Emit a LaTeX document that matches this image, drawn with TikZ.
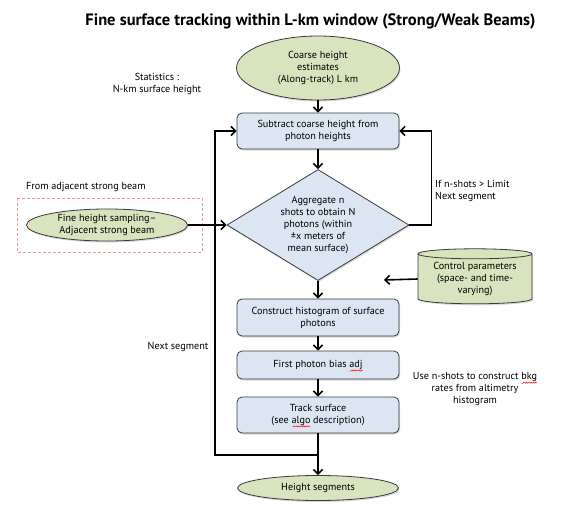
\documentclass[tikz,border=0pt]{standalone}
\usepackage{fontspec}
\setmainfont{PT Sans}
\usetikzlibrary{arrows.meta,positioning,shapes.geometric,shadows}

\definecolor{termfill}{HTML}{D7E4BD}
\definecolor{procfill}{HTML}{DCE6F2}
\definecolor{boxline}{HTML}{3A3A3A}
\definecolor{dashred}{HTML}{E39A9A}

% red squiggle under words the spell checker did not know
\newcommand\spellmark[1]{\leavevmode\setbox0\hbox{#1}%
  \rlap{\smash{\begin{pgfpicture}%
    \pgfsetbaseline{0pt}\pgfsetcornersarced{\pgfpointorigin}%
    \pgfsetlinewidth{0.45pt}\pgfsetstrokecolor{red}%
    \pgfmathtruncatemacro\spellsteps{\the\wd0/1.2pt}%
    \pgfpathmoveto{\pgfpoint{0pt}{-3.6pt}}%
    \foreach \k in {1,...,\spellsteps}{%
      \pgfpathlineto{\pgfpoint{\k*1.2pt}{-3pt+0.6pt*(-1)^\k}}}%
    \pgfusepath{stroke}%
  \end{pgfpicture}}}\box0\relax}

\tikzset{
  every node/.style={font=\fontsize{10.2}{11.8}\selectfont, align=center},
  softshadow/.style={drop shadow={shadow xshift=1pt, shadow yshift=-1.5pt, opacity=0.3}},
  term/.style={ellipse, draw=boxline, line width=0.8pt, fill=termfill, inner sep=0pt, softshadow},
  proc/.style={rectangle, rounded corners=5pt, draw=boxline, line width=0.8pt, fill=procfill,
    minimum width=162pt, inner sep=0pt, softshadow},
  decide/.style={diamond, draw=boxline, line width=0.8pt, fill=procfill, inner sep=0pt,
    aspect=1.64, minimum width=182pt, minimum height=111pt, softshadow},
  store/.style={cylinder, shape border rotate=90, aspect=0.12, draw=boxline, line width=0.8pt,
    fill=termfill, inner sep=0pt, minimum width=114pt, minimum height=55pt, softshadow},
  note/.style={inner sep=1pt},
  flow/.style={line width=1.6pt, -{Straight Barb[length=4.5pt,width=9pt]}},
  dashbox/.style={draw=dashred, line width=0.7pt, dash pattern=on 3pt off 2pt}
}

\begin{document}
\begin{tikzpicture}[x=1pt,y=-1pt]
  \path[use as bounding box] (0,0) rectangle (575,509);

  \node[font=\bfseries\fontsize{16.5}{19}\selectfont] (title) at (310.5,21)
    {Fine surface tracking within L-km window (Strong/Weak Beams)};

  % main column
  \node[term, minimum width=163pt, minimum height=64pt] (coarse) at (318,68)
    {Coarse height\\estimates\\(Along-track) L km};
  \node[proc, minimum height=36pt] (sub) at (318,131)
    {Subtract coarse height from\\photon heights};
  \node[decide] (agg) at (318,225)
    {Aggregate n\\shots to obtain N\\photons (within\\±x meters of\\mean surface)};
  \node[proc, minimum height=37pt] (hist) at (318,317.5)
    {Construct histogram of surface\\photons};
  \node[proc, minimum height=28pt] (bias) at (318,365)
    {First photon bias \spellmark{adj}};
  \node[proc, minimum height=36pt] (track) at (318,415)
    {Track surface\\(see \spellmark{algo} description)};
  \node[term, minimum width=161pt, minimum height=25pt] (hseg) at (318,488)
    {Height segments};

  % side inputs
  \node[note] (stats) at (157,84) {Statistics :\\N-km surface height};
  \node[note, anchor=west] (fromadj) at (25,187) {From adjacent strong beam};
  \draw[dashbox] (17,198) rectangle (202,252);
  \node[term, minimum width=161pt, minimum height=32pt] (fine) at (107,225)
    {Fine height sampling--\\Adjacent strong beam};
  \node[store] (ctrl) at (475,279)
    {Control parameters\\(space- and time-\\varying)};
  \coordinate (ctrlend) at (384,280);

  % labels
  \node[note, anchor=west, align=left] (limit) at (434,191) {If n-shots > Limit\\Next segment};
  \node[note] (nextseg) at (178,347) {Next segment};
  \node[note] (bkgnote) at (475,389)
    {Use n-shots to construct \spellmark{bkg}\\rates from altimetry\\histogram};

  % connectors
  \draw[flow] (coarse) -- (sub);
  \draw[flow] (sub) -- (agg);
  \draw[flow] (agg) -- (hist);
  \draw[flow] (hist) -- (bias);
  \draw[flow] (bias) -- (track);
  \draw[flow] (track) -- (hseg);
  \coordinate (join) at (318,455);
  \coordinate (lback) at (215,131);
  \draw[flow] (join) -| (lback) -- (sub.west);
  \draw[flow] (agg.east) -- ++(22,0) |- (sub.east);
  \draw[flow] (fine.east) -- (agg.west);
  \draw[flow] (ctrl.west) -- (ctrlend);
\end{tikzpicture}
\end{document}
